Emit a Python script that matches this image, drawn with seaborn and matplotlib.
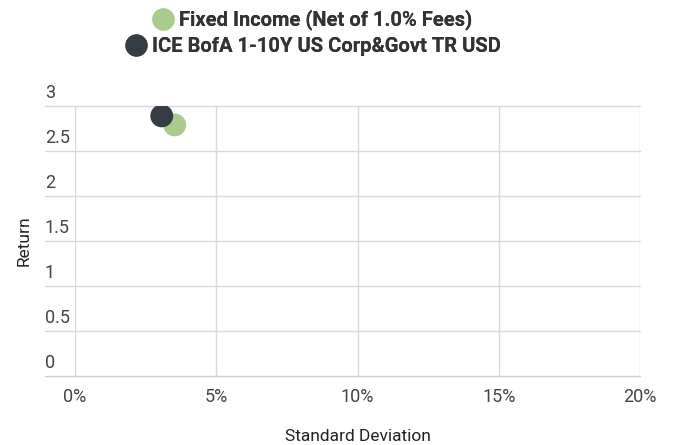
import pandas as pd
import seaborn as sns
import matplotlib.pyplot as plt
from matplotlib.lines import Line2D
from matplotlib.ticker import PercentFormatter
import matplotlib.transforms as mtransforms

series = ['Fixed Income (Net of 1.0% Fees)', 'ICE BofA 1-10Y US Corp&Govt TR USD']
std_dev = [3.53, 3.07]
returns = [2.79, 2.89]
colors = ['#a8cc8c', '#363c45']
x_ticks = [0, 5, 10, 15, 20]
y_ticks = [0, 0.5, 1, 1.5, 2, 2.5, 3]

df = pd.DataFrame({'Series': series, 'Std': std_dev, 'Return': returns})

sns.set_theme(style='white')
plt.rcParams['font.family'] = ['Roboto', 'DejaVu Sans']

fig = plt.figure(figsize=(6.77, 4.45), dpi=100)
ax = fig.add_axes([75 / 677, 1 - 376 / 445, 565 / 677, 270 / 445])

sns.scatterplot(data=df, x='Std', y='Return', hue='Series', palette=colors,
                s=270, edgecolor='none', legend=False, ax=ax, zorder=3)

ax.set_xlim(0, 20)
ax.set_ylim(0, 3)
ax.set_xticks(x_ticks)
ax.xaxis.set_major_formatter(PercentFormatter(decimals=0))
ax.set_yticks(y_ticks)
ax.set_yticklabels([])
ax.tick_params(axis='x', length=0, pad=9, labelsize=13, labelcolor='#444444')
ax.tick_params(axis='y', length=0)
for s in ax.spines.values():
    s.set_visible(False)

# vertical grid
for xv in x_ticks:
    ax.axvline(xv, color='#d9d9d9', lw=1, zorder=1)
# horizontal grid extending to the left under labels
ext = 30 / 565
for yv in y_ticks:
    ax.axhline(yv, xmin=-ext, xmax=1, color='#d9d9d9' if yv else '#cccccc',
               lw=1, clip_on=False, zorder=1)
    lab = ('%g' % yv)
    ax.text(-ext, yv, lab, transform=mtransforms.blended_transform_factory(ax.transAxes, ax.transData)
            + mtransforms.ScaledTranslation(0, 3 / 72, fig.dpi_scale_trans),
            ha='left', va='bottom', fontsize=13, color='#444444')

ax.set_xlabel('Standard Deviation', fontsize=12.5, color='#222222', labelpad=16)
ax.set_ylabel('Return', fontsize=12.5, color='#222222', labelpad=28)

# centered legend lines
for i, (name, c) in enumerate(zip(series, colors)):
    h = Line2D([], [], marker='o', ls='', markersize=15, color=c)
    leg = fig.legend([h], [name], loc='center', bbox_to_anchor=(312 / 677, 1 - (20 + 27 * i) / 445),
                     frameon=False, handletextpad=0.2, borderpad=0, handlelength=1.2,
                     prop={'weight': 'bold', 'size': 14.5})
    for t in leg.get_texts():
        t.set_color('#333333')
    fig.add_artist(leg)

fig.savefig('out.png', dpi=100)
